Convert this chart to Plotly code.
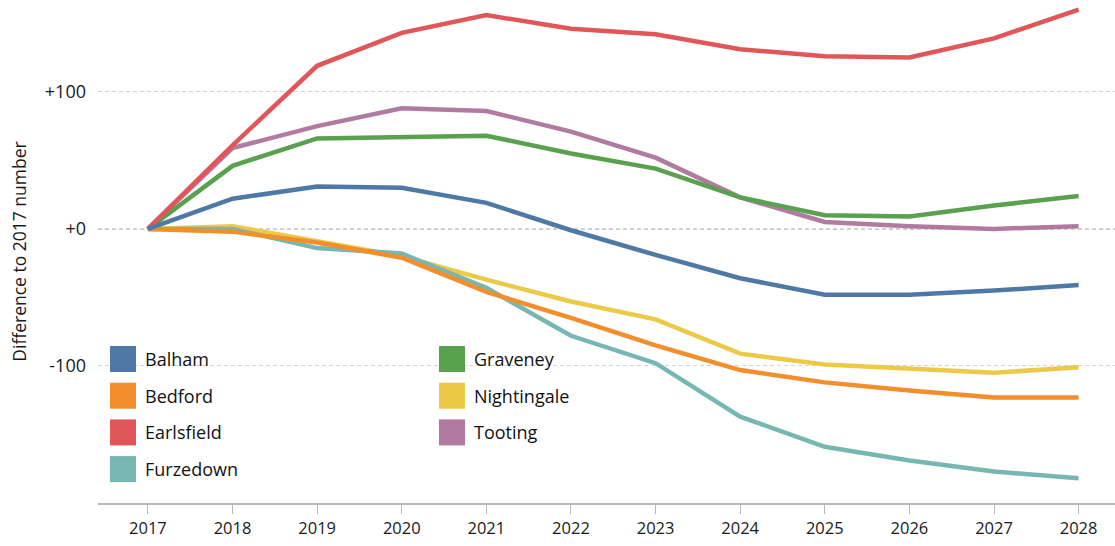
import plotly.graph_objects as go

years = list(range(2017, 2029))

balham = [0, 22, 31, 30, 19, -1, -19, -36, -48, -48, -45, -41]
bedford = [0, -2, -10, -21, -46, -65, -85, -103, -112, -118, -123, -123]
earlsfield = [0, 61, 119, 143, 156, 146, 142, 131, 126, 125, 139, 160]
furzedown = [0, 0, -14, -18, -43, -78, -98, -137, -159, -169, -177, -182]
graveney = [0, 46, 66, 67, 68, 55, 44, 23, 10, 9, 17, 24]
nightingale = [0, 2, -9, -20, -37, -53, -66, -91, -99, -102, -105, -101]
tooting = [0, 59, 75, 88, 86, 71, 52, 23, 5, 2, 0, 2]

names = ["Balham", "Bedford", "Earlsfield", "Furzedown", "Graveney", "Nightingale", "Tooting"]
series = [balham, bedford, earlsfield, furzedown, graveney, nightingale, tooting]
colors = ["#4e79a7", "#f28e2b", "#e15759", "#76b7b2", "#59a14f", "#edc948", "#b07aa1"]

y_ticks = [100, 0, -100]
y_tick_labels = ["+100", "+0", "-100"]

FONT = "Open Sans, Noto Sans, sans-serif"
W, H = 1115, 546
L, R, T, B = 98, 0, 0, 43

fig = go.Figure()

# draw order so the overlaps look like the original
for i in [6, 5, 4, 3, 2, 1, 0]:
    fig.add_trace(go.Scatter(
        x=years, y=series[i], name=names[i], mode="lines",
        line=dict(color=colors[i], width=4.5),
        hoverinfo="skip", showlegend=False,
    ))

# dashed zero line, darker than the other grid lines
fig.add_shape(type="line", xref="paper", yref="y", x0=0, x1=1, y0=0, y1=0,
              line=dict(color="#9a9a9a", width=1.3, dash="4px,3px"), layer="below")


def px_x(px):
    return (px - L) / (W - L - R)


def px_y(py):
    return (H - B - py) / (H - T - B)


# legend: two columns of big square swatches
for k, (name, col) in enumerate(zip(names, colors)):
    c, r = divmod(k, 4)
    sx = [110, 439][c]
    top = 346 + r * 36.7
    fig.add_shape(type="rect", xref="paper", yref="paper",
                  x0=px_x(sx), x1=px_x(sx + 26), y0=px_y(top + 26), y1=px_y(top),
                  fillcolor=col, line=dict(width=0))
    fig.add_annotation(xref="paper", yref="paper", x=px_x(sx + 33), y=px_y(top + 13),
                       text=name, showarrow=False, xanchor="left", yanchor="middle",
                       font=dict(family=FONT, size=18, color="#111"))

fig.update_layout(
    width=W, height=H,
    margin=dict(l=L, r=R, t=T, b=B, autoexpand=False),
    paper_bgcolor="white", plot_bgcolor="white",
    font=dict(family=FONT, color="#222"),
    showlegend=False,
)
fig.update_xaxes(
    range=[2016.41, 2028.43], tickvals=years, automargin=False,
    showgrid=False, zeroline=False,
    showline=True, linecolor="#b8b8b8", linewidth=1.5,
    ticks="outside", ticklen=9, tickcolor="#b8b8b8", tickwidth=1,
    tickfont=dict(size=16.5, color="#1a1a1a"),
)
fig.update_yaxes(
    range=[-200, 167], tickvals=y_ticks, ticktext=y_tick_labels, automargin=False,
    showgrid=True, gridcolor="#d4d4d4", gridwidth=1, griddash="4px,3px",
    zeroline=False, showline=False, ticks="",
    ticklabelstandoff=11,
    tickfont=dict(size=18, color="#1a1a1a"),
    title=dict(text="Difference to 2017 number", font=dict(size=17.5, color="#1a1a1a"), standoff=13),
)

# the page body has a default 8px margin; drop it so the chart sits at the corner
fig.write_html("out.html", config={"displayModeBar": False},
               post_script="document.body.style.margin='0';")
